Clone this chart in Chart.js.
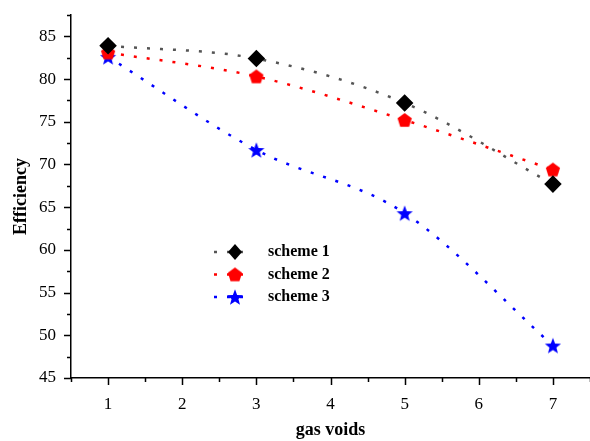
<!DOCTYPE html>
<html>
<head>
<meta charset="utf-8">
<script src="https://cdn.jsdelivr.net/npm/chart.js@4.4.0/dist/chart.umd.min.js"></script>
<style>
  html, body { margin: 0; padding: 0; background: #fff; overflow: hidden; }
  #wrap { width: 590px; height: 441px; }
  canvas { display: block; }
</style>
</head>
<body>
<div id="wrap"><canvas id="lineChart" width="590" height="441"></canvas></div>
<script>
// data
const gasVoids = [1, 3, 5, 7];
const scheme1 = [83.9, 82.4, 77.2, 67.7];
const scheme2 = [83.1, 80.3, 75.2, 69.4];
const scheme3 = [82.6, 71.7, 64.3, 48.8];
const seriesNames = ['scheme 1', 'scheme 2', 'scheme 3'];
const xTickLabels = ['1', '2', '3', '4', '5', '6', '7'];
const yTickLabels = ['45', '50', '55', '60', '65', '70', '75', '80', '85'];

const serif = "'Liberation Serif', 'Times New Roman', serif";

// marker images for shapes chart.js does not have
function makePentagon(color) {
  const c = document.createElement('canvas');
  c.width = 16; c.height = 16;
  const g = c.getContext('2d');
  g.fillStyle = color;
  g.beginPath();
  for (let i = 0; i < 5; i++) {
    const a = -Math.PI / 2 + i * 2 * Math.PI / 5;
    const px = 8 + 7.5 * Math.cos(a), py = 8.6 + 7.5 * Math.sin(a);
    if (i === 0) g.moveTo(px, py); else g.lineTo(px, py);
  }
  g.closePath();
  g.fill();
  return c;
}
function makeStar(color) {
  const c = document.createElement('canvas');
  c.width = 18; c.height = 18;
  const g = c.getContext('2d');
  g.fillStyle = color;
  g.beginPath();
  for (let i = 0; i < 10; i++) {
    const r = i % 2 === 0 ? 8.5 : 3.6;
    const a = -Math.PI / 2 + i * Math.PI / 5;
    const px = 9 + r * Math.cos(a), py = 9.8 + r * Math.sin(a);
    if (i === 0) g.moveTo(px, py); else g.lineTo(px, py);
  }
  g.closePath();
  g.fill();
  return c;
}
const pentagon = makePentagon('#ff0000');
const star = makeStar('#0000ff');

function toPoints(ys) {
  return gasVoids.map(function (x, i) { return { x: x, y: ys[i] }; });
}

// legend drawn inside the plot
const innerLegend = {
  id: 'innerLegend',
  afterDraw: function (chart) {
    const ctx = chart.ctx;
    const x0 = 214, y0 = 252, gap = 22.5;
    ctx.save();
    chart.data.datasets.forEach(function (ds, i) {
      const y = y0 + i * gap;
      ctx.strokeStyle = ds.borderColor;
      ctx.lineWidth = 2.5;
      ctx.setLineDash([3, 10]);
      ctx.beginPath();
      ctx.moveTo(x0, y);
      ctx.lineTo(x0 + 36, y);
      ctx.stroke();
      ctx.setLineDash([]);
      const mx = x0 + 21;
      if (typeof ds.pointStyle === 'string') {
        ctx.fillStyle = ds.pointBackgroundColor;
        ctx.beginPath();
        ctx.moveTo(mx, y - 8);
        ctx.lineTo(mx + 7, y);
        ctx.lineTo(mx, y + 8);
        ctx.lineTo(mx - 7, y);
        ctx.closePath();
        ctx.fill();
      } else {
        const img = ds.pointStyle;
        ctx.drawImage(img, mx - img.width / 2, y - img.height / 2);
      }
      ctx.fillStyle = '#000';
      ctx.font = 'bold 16px ' + serif;
      ctx.textBaseline = 'middle';
      ctx.fillText(ds.label, x0 + 54, y);
    });
    ctx.restore();
  }
};

// major / minor tick marks pointing outward
const tickMarks = {
  id: 'tickMarks',
  afterDraw: function (chart) {
    const ctx = chart.ctx;
    const xs = chart.scales.x, ys = chart.scales.y;
    const area = chart.chartArea;
    ctx.save();
    ctx.strokeStyle = '#000';
    ctx.lineWidth = 1.5;
    ctx.beginPath();
    for (let v = xs.min; v <= xs.max + 1e-6; v += 0.5) {
      const px = Math.round(xs.getPixelForValue(v)) + 0.5;
      const len = Number.isInteger(v) ? 7 : 4;
      ctx.moveTo(px, area.bottom);
      ctx.lineTo(px, area.bottom + len);
    }
    for (let v = ys.min; v <= ys.max + 1e-6; v += 2.5) {
      const py = Math.round(ys.getPixelForValue(v)) + 0.5;
      const len = v % 5 === 0 ? 7 : 4;
      ctx.moveTo(area.left, py);
      ctx.lineTo(area.left - len, py);
    }
    ctx.stroke();
    ctx.restore();
  }
};

const lineStyle = {
  showLine: true,
  borderWidth: 2.5,
  borderDash: [3, 10],
  borderCapStyle: 'butt',
  cubicInterpolationMode: 'monotone',
  fill: false
};

const ctx = document.getElementById('lineChart').getContext('2d');
new Chart(ctx, {
  type: 'scatter',
  data: {
    datasets: [
      Object.assign({
        label: seriesNames[0],
        data: toPoints(scheme1),
        borderColor: '#555555',
        pointBackgroundColor: '#000000',
        pointBorderColor: '#000000',
        pointStyle: 'rectRot',
        pointRadius: 7
      }, lineStyle),
      Object.assign({
        label: seriesNames[1],
        data: toPoints(scheme2),
        borderColor: '#ff0000',
        pointStyle: pentagon
      }, lineStyle),
      Object.assign({
        label: seriesNames[2],
        data: toPoints(scheme3),
        borderColor: '#0000ff',
        pointStyle: star
      }, lineStyle)
    ]
  },
  options: {
    responsive: false,
    animation: false,
    layout: { autoPadding: false, padding: { top: 15, right: 0, left: 0, bottom: 0 } },
    plugins: {
      legend: { display: false },
      tooltip: { enabled: false }
    },
    scales: {
      x: {
        type: 'linear',
        min: 0.5,
        max: 7.5,
        afterFit: function (s) { s.height = 63; s.paddingLeft = 0; s.paddingRight = 0; },
        afterBuildTicks: function (s) {
          s.ticks = xTickLabels.map(function (t) { return { value: Number(t) }; });
        },
        ticks: {
          color: '#000',
          padding: 16,
          font: { family: serif, size: 17 },
          callback: function (v) { return xTickLabels[v - 1]; }
        },
        grid: { display: true, drawOnChartArea: false, drawTicks: false },
        border: { display: true, color: '#000', width: 1.5 },
        title: {
          display: true,
          text: 'gas voids',
          color: '#000',
          font: { family: serif, size: 18, weight: 'bold' },
          padding: { top: 0, bottom: 0 }
        }
      },
      y: {
        min: 45,
        max: 87.5,
        afterFit: function (s) { s.width = 71; s.paddingTop = 0; s.paddingBottom = 0; },
        afterBuildTicks: function (s) {
          s.ticks = yTickLabels.map(function (t) { return { value: Number(t) }; });
        },
        ticks: {
          color: '#000',
          padding: 15,
          font: { family: serif, size: 17 },
          callback: function (v) { return String(v); }
        },
        grid: { display: true, drawOnChartArea: false, drawTicks: false },
        border: { display: true, color: '#000', width: 1.5 },
        title: {
          display: true,
          text: 'Efficiency',
          color: '#000',
          font: { family: serif, size: 18, weight: 'bold' },
          padding: { top: 11, bottom: 0 }
        }
      }
    }
  },
  plugins: [tickMarks, innerLegend]
});
</script>
</body>
</html>
